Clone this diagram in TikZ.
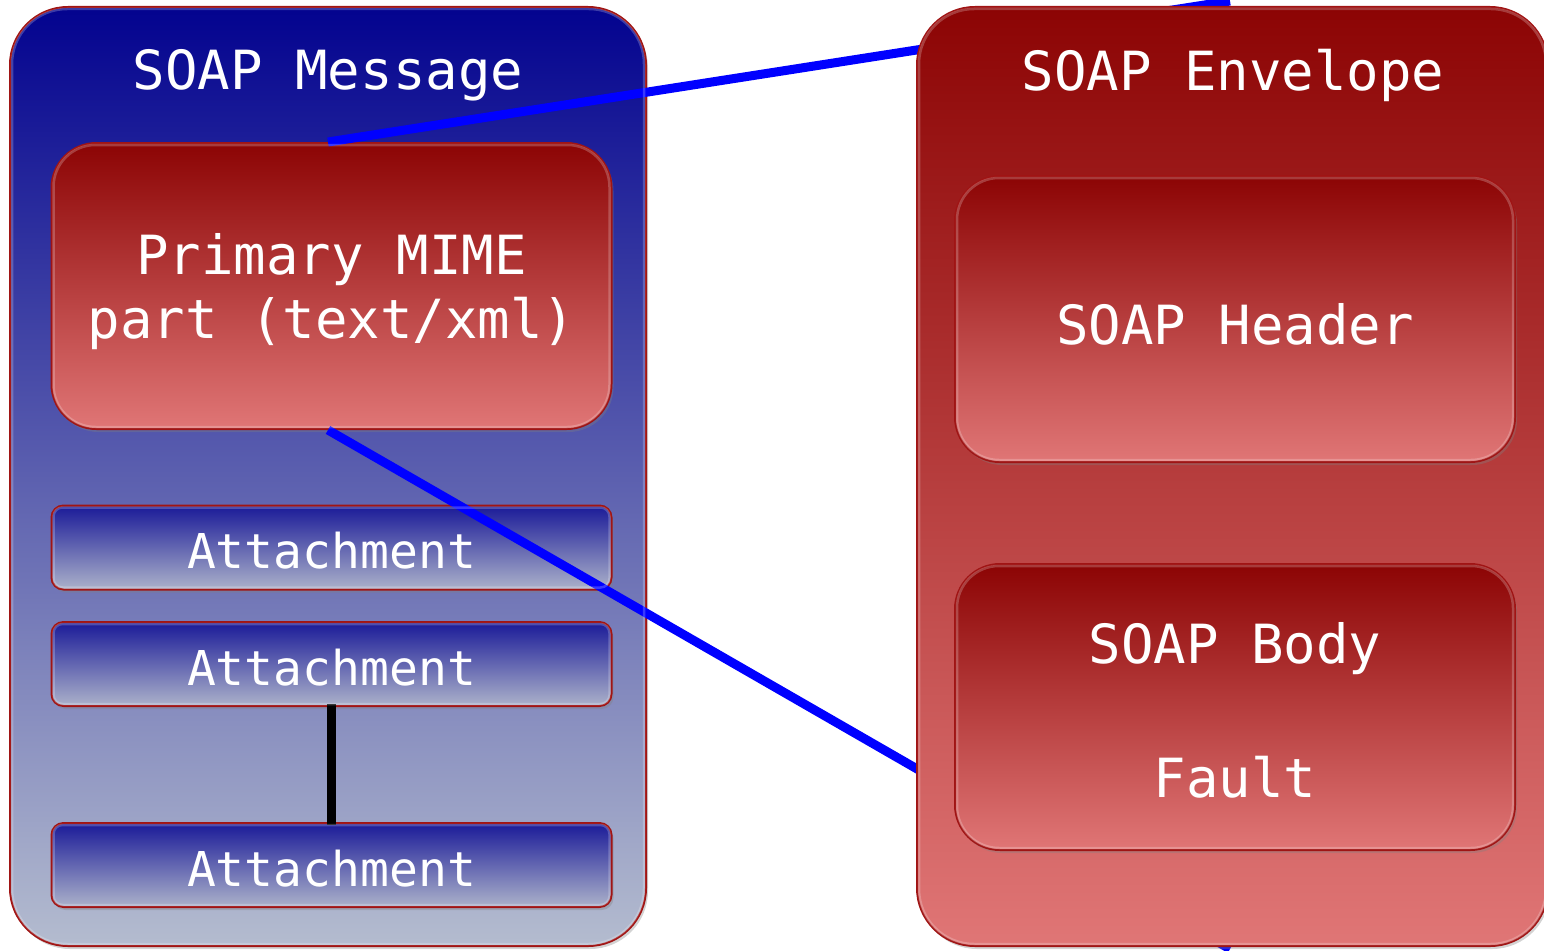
\documentclass[tikz,border=0pt]{standalone}
\usepackage{fontspec}
\newfontfamily\labelfont{DejaVu Sans Mono}
\usetikzlibrary{shadows}
\definecolor{rimred}{HTML}{A01414}
\definecolor{msgtop}{HTML}{03038F}
\definecolor{msgbot}{HTML}{B4BCCF}
\definecolor{redtop}{HTML}{8C0404}
\definecolor{redbot}{HTML}{E07676}
\definecolor{atttop}{HTML}{1A1A98}
\definecolor{attbot}{HTML}{ACB2CA}
\definecolor{linkblue}{HTML}{0000FF}
\begin{document}
\begin{tikzpicture}[x=1pt,y=-1pt,
  box/.style={draw=rimred, inner sep=0pt,
    drop shadow={opacity=0.35, shadow xshift=2pt, shadow yshift=-3pt}},
  panel/.style={box, line width=2pt, rounded corners=58pt},
  bluepanel/.style={panel, top color=msgtop, bottom color=msgbot},
  redpanel/.style={panel, top color=redtop, bottom color=redbot},
  partbox/.style={box, line width=2pt, rounded corners=45pt,
    minimum width=560pt, minimum height=286pt,
    top color=redtop, bottom color=redbot},
  attbox/.style={box, line width=2pt, rounded corners=12pt,
    minimum width=560pt, minimum height=84pt,
    top color=atttop, bottom color=attbot},
  gloss/.style={draw=white, draw opacity=0.22, line width=2.5pt},
  txt/.style={text=white, font=\labelfont\fontsize{54}{64}\selectfont, align=center, inner sep=0pt},
  atttxt/.style={text=white, font=\labelfont\fontsize{48}{58}\selectfont, inner sep=0pt},
  link/.style={draw=linkblue, line width=9pt},
  gap/.style={draw=black, line width=9pt}
]
\useasboundingbox (0,0) rectangle (1544,950);

% SOAP message container
\node[bluepanel, minimum width=636pt, minimum height=939pt] (msg) at (328,476.5) {};
\node[txt] (msgtitle) at (328,75) {SOAP Message};

% primary MIME part
\node[partbox] (prim) at (331.5,286) {};
\node[txt] (primtxt) at (331.5,292) {Primary MIME\\part (text/xml)};

% attachments
\node[attbox] (att1) at (331.5,547.5) {};
\node[atttxt] (att1txt) at (331.5,551) {Attachment};
\node[attbox] (att2) at (331.5,664) {};
\node[atttxt] (att2txt) at (331.5,667.5) {Attachment};
\node[attbox] (att3) at (331.5,865) {};
\node[atttxt] (att3txt) at (331.5,868.5) {Attachment};
\draw[gap] ([yshift=3pt]att2.south) -- ([yshift=-3pt]att3.north);

% links from the primary part to the envelope
\coordinate (envtop) at (1230,1);
\coordinate (envbot) at (1230,949);
\draw[link] (prim.north -| msgtitle) -- (envtop);
\draw[link] (prim.south -| msgtitle) -- (envbot);

% SOAP envelope
\node[redpanel, minimum width=631pt, minimum height=939pt] (env) at (1232.5,476.5) {};
\node[txt] (envtitle) at (1233,75) {SOAP Envelope};

\node[partbox] (hdr) at (1235,319) {};
\node[txt] (hdrtxt) at (1235,324) {SOAP Header};

\node[partbox] (body) at (1235,707) {};
\node[txt] (bodytxt) at (1235,649) {SOAP Body};
\node[txt] (faulttxt) at (1235,777) {Fault};

% glossy inner rims
\foreach \b in {msg,env}
  \draw[gloss, rounded corners=55pt] ([shift={(3pt,-3pt)}]\b.north west) rectangle ([shift={(-3pt,3pt)}]\b.south east);
\foreach \b in {prim,hdr,body}
  \draw[gloss, rounded corners=42pt] ([shift={(3pt,-3pt)}]\b.north west) rectangle ([shift={(-3pt,3pt)}]\b.south east);
\foreach \b in {att1,att2,att3}
  \draw[gloss, rounded corners=9pt] ([shift={(3pt,-3pt)}]\b.north west) rectangle ([shift={(-3pt,3pt)}]\b.south east);
\end{tikzpicture}
\end{document}
